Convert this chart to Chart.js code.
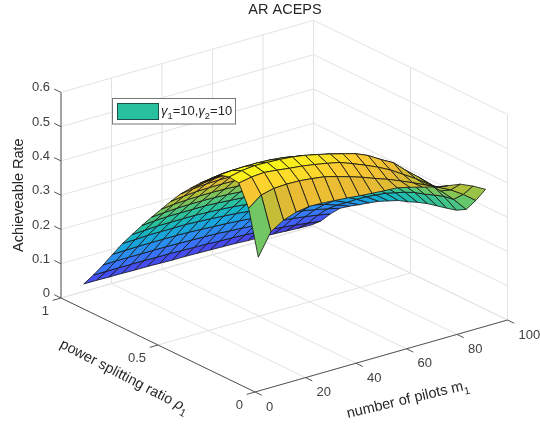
<!DOCTYPE html>
<html>
<head>
<meta charset="utf-8">
<style>
  html, body { margin: 0; padding: 0; background: #fff; }
  canvas { display: block; filter: blur(0.35px); }
</style>
<script src="https://cdn.jsdelivr.net/npm/chart.js@4"></script>
</head>
<body>
<canvas id="myChart" width="540" height="424"></canvas>
<script>
// number of pilots m1 (columns) and power splitting ratio rho1 (rows)
const pilots = [9, 14, 19, 24, 29, 34, 39, 44, 49, 54, 59, 64, 69, 74, 79, 84, 89, 94, 99];
const ratios = [0.1, 0.15, 0.2, 0.25, 0.3, 0.35, 0.4, 0.45, 0.5, 0.55, 0.6, 0.65, 0.7, 0.75, 0.8, 0.85, 0.9, 0.95, 1];
// achievable rate, one row per ratio
const rates = [
  [0.347, 0.411, 0.434, 0.447, 0.453, 0.452, 0.449, 0.446, 0.442, 0.439, 0.436, 0.434, 0.425, 0.415, 0.405, 0.398, 0.392, 0.376, 0.356],
  [0.476, 0.504, 0.513, 0.515, 0.514, 0.510, 0.505, 0.495, 0.484, 0.472, 0.458, 0.445, 0.430, 0.414, 0.397, 0.380, 0.362, 0.338, 0.310],
  [0.536, 0.543, 0.546, 0.542, 0.537, 0.533, 0.527, 0.520, 0.512, 0.498, 0.483, 0.467, 0.448, 0.425, 0.402, 0.375, 0.345, 0.310, 0.270],
  [0.540, 0.548, 0.552, 0.551, 0.549, 0.546, 0.540, 0.532, 0.523, 0.513, 0.503, 0.487, 0.465, 0.445, 0.412, 0.382, 0.350, 0.305, 0.254],
  [0.532, 0.535, 0.536, 0.536, 0.534, 0.530, 0.523, 0.515, 0.507, 0.498, 0.484, 0.470, 0.455, 0.432, 0.405, 0.375, 0.340, 0.295, 0.246],
  [0.507, 0.512, 0.513, 0.513, 0.511, 0.507, 0.501, 0.495, 0.487, 0.479, 0.468, 0.453, 0.435, 0.412, 0.386, 0.357, 0.325, 0.284, 0.239],
  [0.481, 0.485, 0.487, 0.487, 0.485, 0.483, 0.479, 0.474, 0.468, 0.460, 0.449, 0.434, 0.414, 0.393, 0.368, 0.341, 0.311, 0.275, 0.232],
  [0.452, 0.457, 0.461, 0.462, 0.462, 0.460, 0.457, 0.452, 0.447, 0.438, 0.425, 0.409, 0.391, 0.371, 0.348, 0.323, 0.296, 0.262, 0.222],
  [0.422, 0.427, 0.430, 0.431, 0.431, 0.430, 0.427, 0.422, 0.417, 0.409, 0.397, 0.382, 0.366, 0.348, 0.327, 0.304, 0.279, 0.247, 0.210],
  [0.387, 0.391, 0.394, 0.395, 0.395, 0.394, 0.392, 0.388, 0.384, 0.377, 0.367, 0.354, 0.340, 0.323, 0.304, 0.284, 0.261, 0.232, 0.200],
  [0.350, 0.354, 0.356, 0.357, 0.357, 0.356, 0.354, 0.351, 0.347, 0.341, 0.332, 0.321, 0.308, 0.293, 0.277, 0.258, 0.238, 0.213, 0.185],
  [0.313, 0.316, 0.318, 0.319, 0.319, 0.318, 0.316, 0.313, 0.310, 0.305, 0.297, 0.287, 0.276, 0.263, 0.249, 0.233, 0.216, 0.194, 0.170],
  [0.275, 0.278, 0.280, 0.280, 0.280, 0.280, 0.278, 0.275, 0.272, 0.268, 0.261, 0.252, 0.242, 0.232, 0.220, 0.206, 0.192, 0.173, 0.152],
  [0.235, 0.237, 0.239, 0.239, 0.239, 0.239, 0.237, 0.235, 0.232, 0.228, 0.222, 0.215, 0.207, 0.199, 0.189, 0.178, 0.166, 0.150, 0.133],
  [0.195, 0.196, 0.198, 0.198, 0.198, 0.198, 0.196, 0.194, 0.191, 0.188, 0.184, 0.179, 0.173, 0.167, 0.159, 0.150, 0.141, 0.129, 0.115],
  [0.150, 0.151, 0.152, 0.152, 0.152, 0.152, 0.151, 0.149, 0.147, 0.145, 0.142, 0.139, 0.135, 0.131, 0.125, 0.119, 0.112, 0.104, 0.095],
  [0.105, 0.106, 0.106, 0.106, 0.106, 0.106, 0.105, 0.104, 0.103, 0.102, 0.099, 0.097, 0.094, 0.091, 0.087, 0.083, 0.078, 0.072, 0.065],
  [0.062, 0.062, 0.062, 0.062, 0.062, 0.061, 0.061, 0.060, 0.059, 0.058, 0.056, 0.055, 0.053, 0.051, 0.048, 0.044, 0.040, 0.035, 0.030],
  [0.022, 0.022, 0.021, 0.021, 0.020, 0.020, 0.019, 0.018, 0.018, 0.017, 0.016, 0.015, 0.014, 0.012, 0.011, 0.010, 0.008, 0.006, 0.005],
];
const pilotTicks = [0, 20, 40, 60, 80, 100];
const ratioTicks = [0, 0.5, 1];
const rateTicks = [0, 0.1, 0.2, 0.3, 0.4, 0.5, 0.6];
const rateTickLabels = ['0', '0.1', '0.2', '0.3', '0.4', '0.5', '0.6'];

const parula = [
  [62, 38, 168], [71, 72, 238], [56, 118, 253], [36, 150, 235], [16, 178, 208],
  [40, 193, 160], [92, 200, 115], [168, 192, 60], [232, 186, 52], [254, 205, 50], [249, 251, 21],
];
const FONT = '"Liberation Sans", Arial, sans-serif';
const INK = '#404040';
const GRID = '#e2e2e2';

// fixed MATLAB style view, the walls meet in an orthographic box
const project = (m, r, z) => ({
  x: 255 + 2.525 * m - 194 * r,
  y: 392 - 0.72 * m - 94 * r - 342.7 * z,
});

const cellColor = (value) => {
  const t = Math.min(1, Math.max(0, value / 0.552)) * (parula.length - 1);
  const low = Math.min(Math.floor(t), parula.length - 2);
  const f = t - low;
  const rgb = parula[low].map((c, k) => Math.round(c + (parula[low + 1][k] - c) * f));
  return `rgb(${rgb.join(',')})`;
};

const lineSet = (points, color, width) => ({
  data: points,
  showLine: true,
  fill: false,
  borderColor: color,
  borderWidth: width,
  pointRadius: 0,
  tension: 0,
  clip: false,
});

// nearest cell first, chart.js paints dataset 0 last
const surfaceSets = [];
ratios.slice(0, -1).forEach((r, i) => {
  pilots.slice(0, -1).forEach((m, j) => {
    const next = { r: ratios[i + 1], m: pilots[j + 1] };
    surfaceSets.push({
      data: [
        project(m, r, rates[i][j]),
        project(next.m, r, rates[i][j + 1]),
        project(next.m, next.r, rates[i + 1][j + 1]),
        project(m, next.r, rates[i + 1][j]),
        project(m, r, rates[i][j]),
      ],
      showLine: true,
      fill: 'shape',
      backgroundColor: cellColor(rates[i][j]),
      borderColor: '#141414',
      borderWidth: 0.8,
      borderJoinStyle: 'round',
      pointRadius: 0,
      tension: 0,
      clip: false,
    });
  });
});

const axisSets = [
  lineSet([project(0, 1, 0), project(0, 1, 0.6)], '#555', 1),
  lineSet([project(0, 1, 0), project(0, 0, 0)], '#555', 1),
  lineSet([project(0, 0, 0), project(100, 0, 0)], '#555', 1),
];
rateTicks.forEach((z) => {
  axisSets.push(lineSet([project(0, 1, z), project(0, 1.035, z)], '#555', 1));
});
ratioTicks.forEach((r) => {
  axisSets.push(lineSet([project(0, r, 0), project(-3.3, r, 0)], '#555', 1));
});
pilotTicks.forEach((m) => {
  axisSets.push(lineSet([project(m, 0, 0), project(m, -0.035, 0)], '#555', 1));
});

const gridSets = [];
rateTicks.forEach((z) => {
  gridSets.push(lineSet([project(0, 1, z), project(100, 1, z), project(100, 0, z)], GRID, 1));
});
pilotTicks.forEach((m) => {
  gridSets.push(lineSet([project(m, 0, 0), project(m, 1, 0), project(m, 1, 0.6)], GRID, 1));
});
ratioTicks.forEach((r) => {
  gridSets.push(lineSet([project(0, r, 0), project(100, r, 0), project(100, r, 0.6)], GRID, 1));
});

// runs of text: plain, then small lowered subscript
const drawRuns = (ctx, runs, size) => {
  let x = 0;
  runs.forEach((run) => {
    ctx.font = `${run.italic ? 'italic ' : ''}${run.sub ? size * 0.72 : size}px ${FONT}`;
    ctx.fillText(run.text, x, run.sub ? size * 0.32 : 0);
    x += ctx.measureText(run.text).width;
  });
};

const labelsPlugin = {
  id: 'labelsPlugin',
  afterDraw: (chart) => {
    const { ctx } = chart;
    const px = (p) => ({ x: chart.scales.x.getPixelForValue(p.x), y: chart.scales.y.getPixelForValue(p.y) });
    ctx.save();
    ctx.fillStyle = INK;
    ctx.textBaseline = 'middle';

    ctx.font = `13px ${FONT}`;
    ctx.textAlign = 'right';
    rateTicks.forEach((z, i) => {
      const p = px(project(0, 1, z));
      ctx.fillText(rateTickLabels[i], p.x - 11, p.y - 4.5);
    });
    ratioTicks.forEach((r) => {
      const p = px(project(0, r, 0));
      ctx.fillText(String(r), p.x - 12, p.y + 13.5);
    });
    ctx.textAlign = 'left';
    pilotTicks.forEach((m) => {
      const p = px(project(m, 0, 0));
      ctx.fillText(String(m), p.x + 11, p.y + 15);
    });

    ctx.fillStyle = '#262626';
    ctx.textAlign = 'center';
    ctx.font = `14.5px ${FONT}`;
    ctx.fillText('AR ACEPS', 285, 10);

    ctx.textAlign = 'left';
    ctx.textBaseline = 'alphabetic';
    ctx.save();
    ctx.translate(23, 252);
    ctx.rotate(-Math.PI / 2);
    drawRuns(ctx, [{ text: 'Achieveable Rate' }], 14.5);
    ctx.restore();

    ctx.save();
    ctx.translate(59, 347);
    ctx.rotate((27.5 * Math.PI) / 180);
    drawRuns(ctx, [{ text: 'power splitting ratio ' }, { text: 'ρ', italic: true }, { text: '1', sub: true }], 14.5);
    ctx.restore();

    ctx.save();
    ctx.translate(348, 418);
    ctx.rotate((-13.5 * Math.PI) / 180);
    drawRuns(ctx, [{ text: 'number of pilots m' }, { text: '1', sub: true }], 14.5);
    ctx.restore();

    // legend box
    ctx.fillStyle = '#fff';
    ctx.strokeStyle = '#777';
    ctx.lineWidth = 1;
    ctx.fillRect(112.5, 98.5, 123, 25.5);
    ctx.strokeRect(112.5, 98.5, 123, 25.5);
    ctx.fillStyle = cellColor(0.276);
    ctx.strokeStyle = '#1c4f47';
    ctx.fillRect(117.5, 103.5, 41, 16);
    ctx.strokeRect(117.5, 103.5, 41, 16);
    ctx.fillStyle = '#262626';
    ctx.save();
    ctx.translate(161, 115);
    drawRuns(ctx, [
      { text: 'γ', italic: true }, { text: '1', sub: true }, { text: '=10,' },
      { text: 'γ', italic: true }, { text: '2', sub: true }, { text: '=10' },
    ], 13);
    ctx.restore();
    ctx.restore();
  },
};

const ctx = document.getElementById('myChart').getContext('2d');
const myChart = new Chart(ctx, {
  type: 'scatter',
  data: { datasets: [...surfaceSets, ...axisSets, ...gridSets] },
  options: {
    responsive: false,
    animation: false,
    layout: { padding: 0 },
    plugins: {
      legend: { display: false },
      tooltip: { enabled: false },
    },
    scales: {
      x: { type: 'linear', min: 0, max: 540, display: false },
      y: { type: 'linear', min: 0, max: 424, reverse: true, display: false },
    },
  },
  plugins: [labelsPlugin],
});
</script>
</body>
</html>
